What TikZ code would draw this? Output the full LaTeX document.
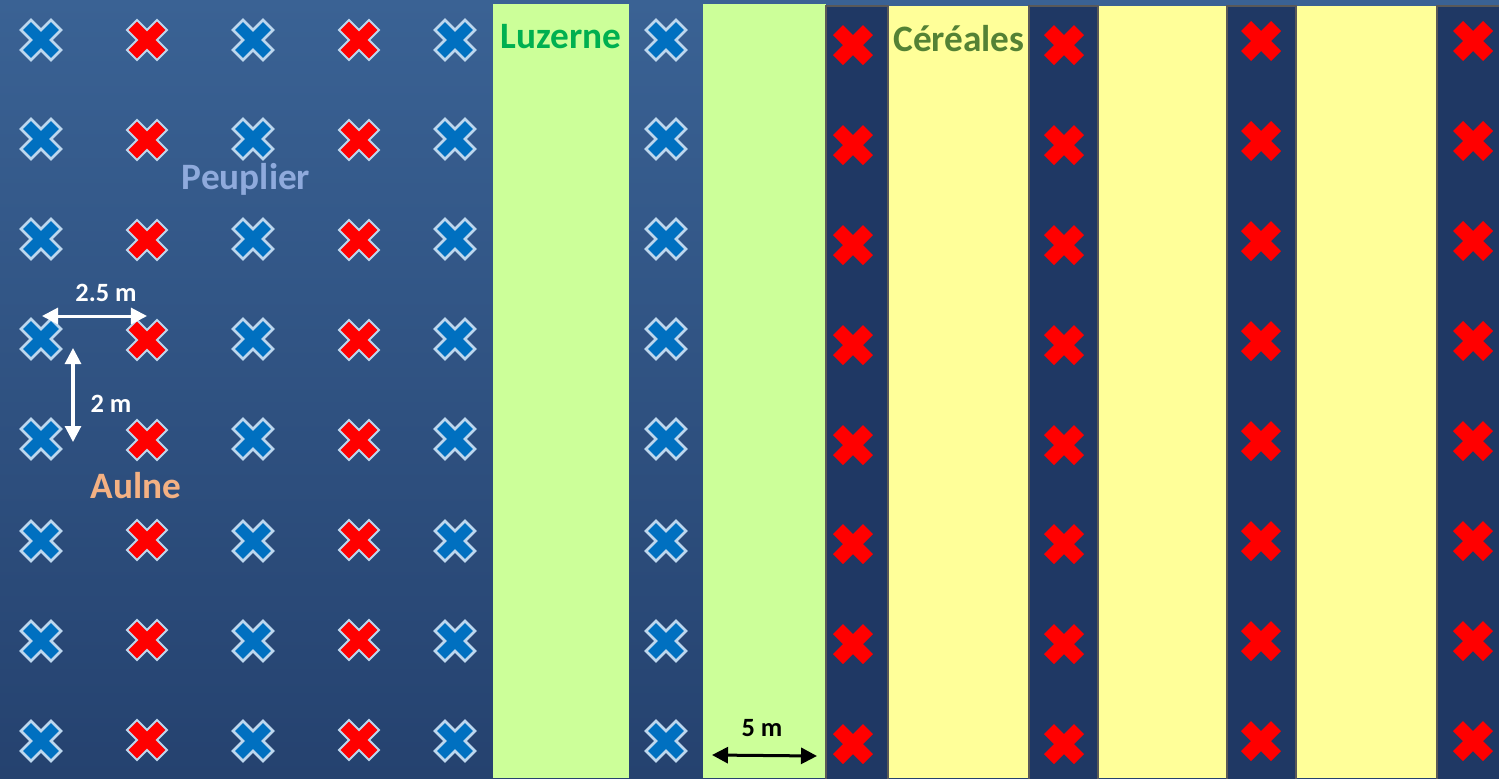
\documentclass[tikz,border=0pt]{standalone}
\usepackage{fontspec}
\setmainfont{Carlito}
\usetikzlibrary{arrows.meta}
\definecolor{blueleaf}{HTML}{0070C0}
\definecolor{paleedge}{HTML}{BDD7EE}
\definecolor{darkstrip}{HTML}{1F3864}
\definecolor{topsky}{HTML}{3A6294}
\definecolor{lowsky}{HTML}{25426F}
\definecolor{luzgreen}{HTML}{CCFF99}
\definecolor{cerealyellow}{HTML}{FFFF99}
\definecolor{peuplierblue}{HTML}{8FAADC}
\definecolor{aulneorange}{HTML}{F4B183}
\definecolor{luzernegreen}{HTML}{00B050}
\definecolor{cerealgreen}{HTML}{548235}
\tikzset{
  plant/.pic={
    \path[pic actions] (0,-10) -- (10,-20) -- (20,-10) -- (10,0) -- (20,10) -- (10,20)
      -- (0,10) -- (-10,20) -- (-20,10) -- (-10,0) -- (-20,-10) -- (-10,-20) -- cycle;
  },
  poplar/.style={fill=blueleaf,draw=paleedge,line width=0.25mm},
  alder/.style={fill=red,draw=paleedge,line width=0.2mm},
  bare/.style={fill=red,draw=none},
  strip/.style={fill=darkstrip,draw=black!65,line width=0.15mm},
  cropname/.style={font=\bfseries\fontsize{10.6pt}{12pt}\selectfont},
  dimtext/.style={font=\bfseries\fontsize{7.5pt}{9pt}\selectfont},
  dimline/.style={<->,>={Triangle[length=1.6mm,width=1.6mm]},line width=0.3mm}
}
\begin{document}
\begin{tikzpicture}[x=0.01cm,y=-0.01cm]
    \useasboundingbox (0,0) rectangle (1499,778);
    \shade[top color=topsky,bottom color=lowsky] (0,0) rectangle (1499,778);

    \fill[luzgreen] (493,4) rectangle (629,778);
    \fill[luzgreen] (703,4) rectangle (826,778);

    \draw[strip] (826,6) rectangle (888,780);
    \draw[strip] (1029,6) rectangle (1098,780);
    \draw[strip] (1227,6) rectangle (1296,780);
    \draw[strip] (1437,6) rectangle (1501,780);
    \fill[cerealyellow] (889,6) rectangle (1028,778);
    \fill[cerealyellow] (1099,6) rectangle (1226,778);
    \fill[cerealyellow] (1297,6) rectangle (1436,778);

    % agroforestry block
    \foreach \y in {40,139,239,339,439,541,641,741} {
        \foreach \x in {41,253,455,666}
            \pic[poplar] at (\x,\y) {plant};
    }
    \foreach \y in {40,140,240,340,440,540,640,740} {
        \foreach \x in {147,359}
            \pic[alder] at (\x,\y) {plant};
    }

    % alley rows
    \foreach \y in {45,145,245,345,445,544,644,744} {
        \foreach \x in {853,1064}
            \pic[bare] at (\x,\y) {plant};
    }
    \foreach \y in {41,141,241,341,441,541,641,741} {
        \foreach \x in {1261,1473}
            \pic[bare] at (\x,\y) {plant};
    }

    \node[cropname,text=peuplierblue] (peuplier) at (246,179) {Peuplier};
    \node[cropname,text=aulneorange] (aulne) at (136,486) {Aulne};
    \node[cropname,text=luzernegreen] (luzerne) at (561,37) {Luzerne};
    \node[cropname,text=cerealgreen] (cereales) at (959,39) {Céréales};

    \coordinate (rowa) at (42,316);
    \coordinate (rowb) at (147,316);
    \coordinate (treea) at (73,348);
    \coordinate (treeb) at (73,442);
    \coordinate (bandl) at (712,755);
    \coordinate (bandr) at (817,756);

    \draw[dimline,white] (rowa) -- (rowb);
    \draw[dimline,white] (treea) -- (treeb);
    \draw[dimline,black] (bandl) -- (bandr);

    \node[dimtext,text=white] (rowgap) at (106,293) {2.5 m};
    \node[dimtext,text=white] (treegap) at (111,404) {2 m};
    \node[dimtext,text=black] (bandgap) at (762,728) {5 m};
\end{tikzpicture}
\end{document}
